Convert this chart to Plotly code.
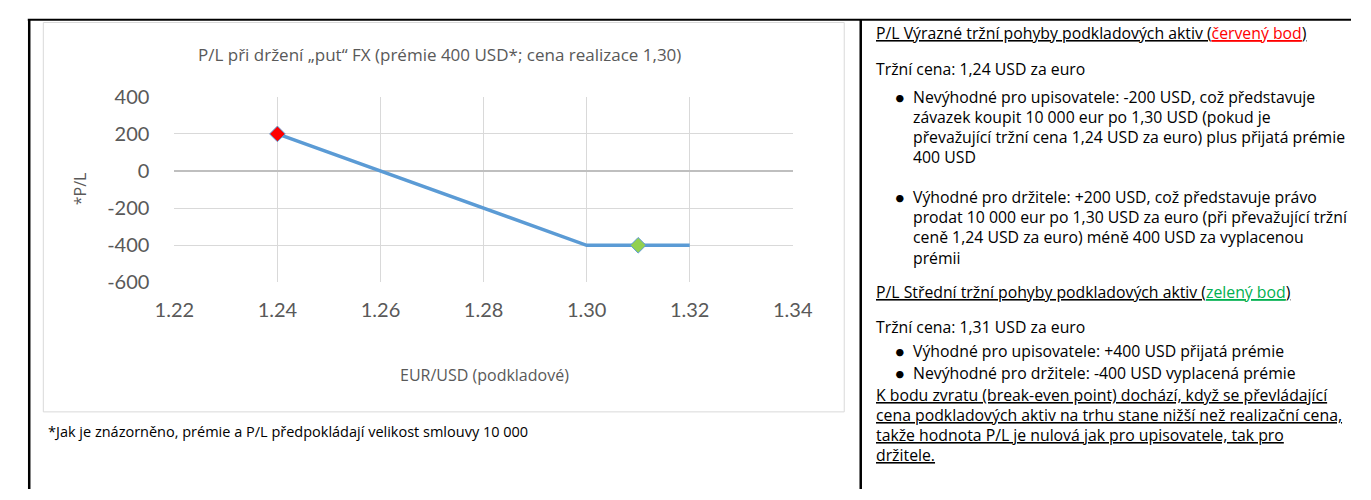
import plotly.graph_objects as go

W, H = 1371, 500

# ---- data ----
price = [1.24, 1.30, 1.32]
pl = [200, -400, -400]
red_x = [1.24]
red_y = [200]
green_x = [1.31]
green_y = [-400]
x_ticks = [1.22, 1.24, 1.26, 1.28, 1.30, 1.32, 1.34]
x_tick_labels = ["1.22", "1.24", "1.26", "1.28", "1.30", "1.32", "1.34"]
y_ticks = [-600, -400, -200, 0, 200, 400]
y_tick_labels = ["-600", "-400", "-200", "0", "200", "400"]

chart_title = "P/L při držení „put“ FX (prémie 400 USD*; cena realizace 1,30)"
x_title = "EUR/USD (podkladové)"
y_title = "*P/L"
footnote = "*Jak je znázorněno, prémie a P/L předpokládají velikost smlouvy 10 000"

# right panel: (kind, text, y)
panel = [
    ("head", 'P/L Výrazné tržní pohyby podkladových aktiv (<span style="color:#ff0000;text-decoration:underline">červený bod</span>)', 21),
    ("text", "Tržní cena: 1,24 USD za euro", 59),
    ("bullet", "Nevýhodné pro upisovatele: -200 USD, což představuje", 88),
    ("cont", "závazek koupit 10 000 eur po 1,30 USD (pokud je", 109),
    ("cont", "převažující tržní cena 1,24 USD za euro) plus přijatá prémie", 130),
    ("cont", "400 USD", 151),
    ("bullet", "Výhodné pro držitele: +200 USD, což představuje právo", 193),
    ("cont", "prodat 10 000 eur po 1,30 USD za euro (při převažující tržní", 214),
    ("cont", "ceně 1,24 USD za euro) méně 400 USD za vyplacenou", 235),
    ("cont", "prémii", 257),
    ("head", 'P/L Střední tržní pohyby podkladových aktiv (<span style="color:#00b050;text-decoration:underline">zelený bod</span>)', 293),
    ("text", "Tržní cena: 1,31 USD za euro", 330),
    ("bullet", "Výhodné pro upisovatele: +400 USD přijatá prémie", 355),
    ("bullet", "Nevýhodné pro držitele: -400 USD vyplacená prémie", 378),
    ("uline", "K bodu zvratu (break-even point) dochází, když se převládající", 401),
    ("uline", "cena podkladových aktiv na trhu stane nižší než realizační cena,", 422),
    ("uline", "takže hodnota P/L je nulová jak pro upisovatele, tak pro", 443),
    ("uline", "držitele.", 464),
]


def px(x):
    return x / W


def py(y):
    return 1 - y / H


FONT = "'Open Sans', Lato, sans-serif"
TFONT = "Lato, 'Open Sans', sans-serif"
GRAY = "#595959"

fig = go.Figure()
fig.add_trace(go.Scatter(x=price, y=pl, mode="lines",
                         line=dict(color="#5b9bd5", width=3.5), hoverinfo="skip"))
fig.add_trace(go.Scatter(x=red_x, y=red_y, mode="markers",
                         marker=dict(symbol="diamond", size=12, color="#ff0000",
                                     line=dict(color="#5b9bd5", width=1))))
fig.add_trace(go.Scatter(x=green_x, y=green_y, mode="markers",
                         marker=dict(symbol="diamond", size=12, color="#92d050",
                                     line=dict(color="#5b9bd5", width=1))))

plot_l, plot_r, plot_t, plot_b = 159, 796, 88, 283

fig.update_layout(
    width=W, height=H, autosize=False,
    margin=dict(l=0, r=0, t=0, b=0),
    paper_bgcolor="white", plot_bgcolor="white",
    showlegend=False,
    xaxis=dict(domain=[px(plot_l), px(plot_r)], range=[1.22, 1.34],
               tickvals=x_ticks, ticktext=x_tick_labels, showgrid=True,
               gridcolor="#d9d9d9", gridwidth=1, zeroline=False,
               showline=False, ticks="", ticklabelstandoff=14,
               tickfont=dict(family=TFONT, size=20, color=GRAY)),
    yaxis=dict(domain=[py(plot_b), py(plot_t)], range=[-600, 400],
               tickvals=y_ticks, ticktext=y_tick_labels, showgrid=True,
               gridcolor="#d9d9d9", gridwidth=1, zeroline=True,
               zerolinecolor="#bfbfbf", zerolinewidth=1.5, showline=False,
               ticks="", ticklabelstandoff=24,
               tickfont=dict(family=TFONT, size=20, color=GRAY)),
)

shapes = [
    # chart frame
    dict(type="rect", xref="paper", yref="paper", x0=px(24), x1=px(849),
         y0=py(419), y1=py(10), line=dict(color="#d9d9d9", width=1)),
    # table borders
    dict(type="line", xref="paper", yref="paper", x0=px(8), x1=1,
         y0=py(7), y1=py(7), line=dict(color="black", width=2)),
    dict(type="line", xref="paper", yref="paper", x0=px(9.5), x1=px(9.5),
         y0=py(7), y1=0, line=dict(color="black", width=2.5)),
    dict(type="line", xref="paper", yref="paper", x0=px(866), x1=px(866),
         y0=py(7), y1=0, line=dict(color="black", width=2.5)),
]
fig.update_layout(shapes=shapes)

ann = [
    dict(text=chart_title, x=px(432), y=py(44), font=dict(family=FONT, size=17, color=GRAY),
         xanchor="center", yanchor="middle"),
    dict(text=x_title, x=px(478), y=py(380), font=dict(family=FONT, size=16, color=GRAY),
         xanchor="center", yanchor="middle"),
    dict(text=y_title, x=px(62), y=py(185), textangle=-90,
         font=dict(family=FONT, size=16, color=GRAY), xanchor="center", yanchor="middle"),
    dict(text=footnote, x=px(27), y=py(440), font=dict(family=FONT, size=14.5, color="black"),
         xanchor="left", yanchor="middle"),
]

PFONT = 15.8
HX, BX, TX = 880, 898, 918
for kind, txt, y in panel:
    f = dict(family=FONT, size=PFONT, color="black")
    if kind in ("head", "uline"):
        f["lineposition"] = "under"
        ann.append(dict(text=txt, x=px(HX), y=py(y), font=f, xanchor="left", yanchor="middle"))
    elif kind == "text":
        ann.append(dict(text=txt, x=px(HX), y=py(y), font=f, xanchor="left", yanchor="middle"))
    elif kind == "bullet":
        ann.append(dict(text="•", x=px(BX), y=py(y), font=dict(family="Lato, sans-serif", size=20, color="black"),
                        xanchor="left", yanchor="middle"))
        ann.append(dict(text=txt, x=px(TX), y=py(y), font=f, xanchor="left", yanchor="middle"))
    else:
        ann.append(dict(text=txt, x=px(TX), y=py(y), font=f, xanchor="left", yanchor="middle"))

for a in ann:
    a.update(xref="paper", yref="paper", showarrow=False)
fig.update_layout(annotations=ann)

fig.write_html("out.html", include_plotlyjs=True, config={"displayModeBar": False},
               post_script="document.body.style.margin='0';document.body.style.overflow='hidden';")
